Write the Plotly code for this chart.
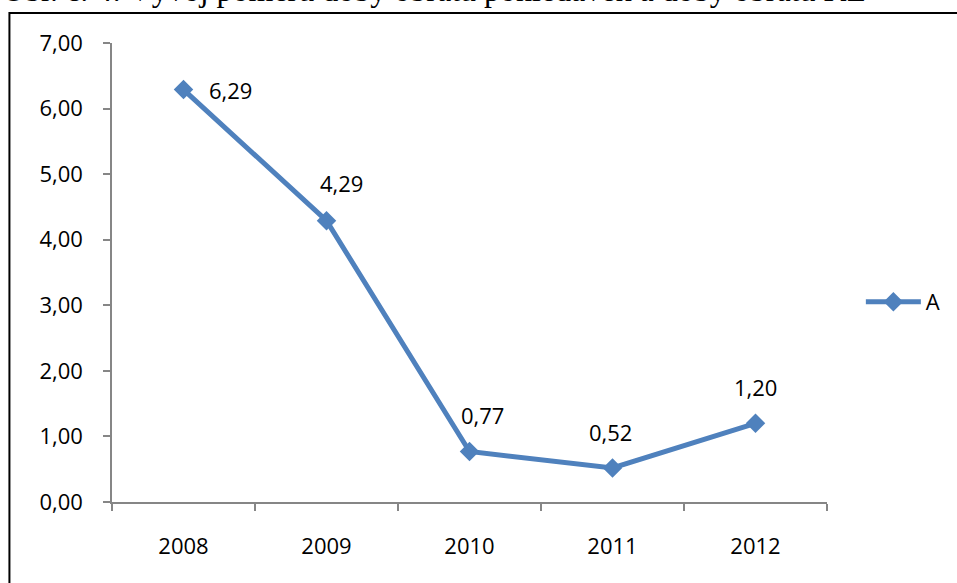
import plotly.graph_objects as go

years = ["2008", "2009", "2010", "2011", "2012"]
values = [6.29, 4.29, 0.77, 0.52, 1.20]
series_name = "A"
title_text = "Obr. č. 4: Vývoj poměru doby obratu pohledávek a doby obratu KZ"
y_ticks = [0, 1, 2, 3, 4, 5, 6, 7]

# label offsets (pixels) for each data label
label_dx = [47, 15, 13, -2, 0]
label_dy = [0, 38, 37, 36, 36]

W, H = 957, 583
L, R, T, B = 112, 127, 43, 81
pw, ph = W - L - R, H - T - B

def px_x(p):
    return (p - L) / pw

def px_y(p):
    return (H - B - p) / ph

font_main = "Open Sans, Noto Sans, sans-serif"
blue = "#4F81BD"
axis_col = "#868686"

fig = go.Figure()
fig.add_trace(go.Scatter(
    x=years, y=values, mode="lines+markers", name=series_name,
    line=dict(color=blue, width=5),
    marker=dict(symbol="diamond", size=15, color=blue),
))

for i, (v, dx, dy) in enumerate(zip(values, label_dx, label_dy)):
    fig.add_annotation(
        x=i, y=v, xref="x", yref="y",
        text=f"{v:.2f}".replace(".", ","), showarrow=False,
        xshift=dx, yshift=dy, xanchor="center", yanchor="middle",
        font=dict(family=font_main, size=22, color="black"),
    )

fig.add_annotation(
    x=px_x(0), y=px_y(-10), xref="paper", yref="paper",
    text=title_text, showarrow=False, xanchor="left", yanchor="middle",
    font=dict(family="Liberation Serif, Times New Roman, serif", size=32, color="black"),
)

fig.add_shape(
    type="rect", xref="paper", yref="paper",
    x0=px_x(9), x1=px_x(W + 20), y0=px_y(H + 20), y1=px_y(13),
    line=dict(color="black", width=2), layer="above",
)

fig.update_layout(
    width=W, height=H,
    margin=dict(l=L, r=R, t=T, b=B, pad=0),
    paper_bgcolor="white", plot_bgcolor="white",
    separators=", ",
    font=dict(family=font_main, size=22, color="black"),
    showlegend=True,
    legend=dict(x=px_x(864), y=px_y(302), xanchor="left", yanchor="middle",
                itemwidth=55,
                font=dict(family=font_main, size=22, color="black"),
                bgcolor="rgba(0,0,0,0)"),
    xaxis=dict(
        type="category", range=[-0.5, 4.5], tickson="boundaries",
        showline=True, linecolor=axis_col, linewidth=1.5,
        ticks="outside", ticklen=7, tickcolor=axis_col, tickwidth=1.5,
        showgrid=False, zeroline=False, ticklabelstandoff=24,
        tickfont=dict(family=font_main, size=22, color="black"),
    ),
    yaxis=dict(
        range=[0, 7], tickvals=y_ticks, tickformat=".2f",
        showline=True, linecolor=axis_col, linewidth=1.5,
        ticks="outside", ticklen=7, tickcolor=axis_col, tickwidth=1.5,
        showgrid=False, zeroline=False, ticklabelstandoff=16,
        tickfont=dict(family=font_main, size=22, color="black"),
    ),
)

fig.write_html("out.html", config={"displayModeBar": False},
               post_script="document.body.style.margin='0';document.body.style.overflow='hidden';")
